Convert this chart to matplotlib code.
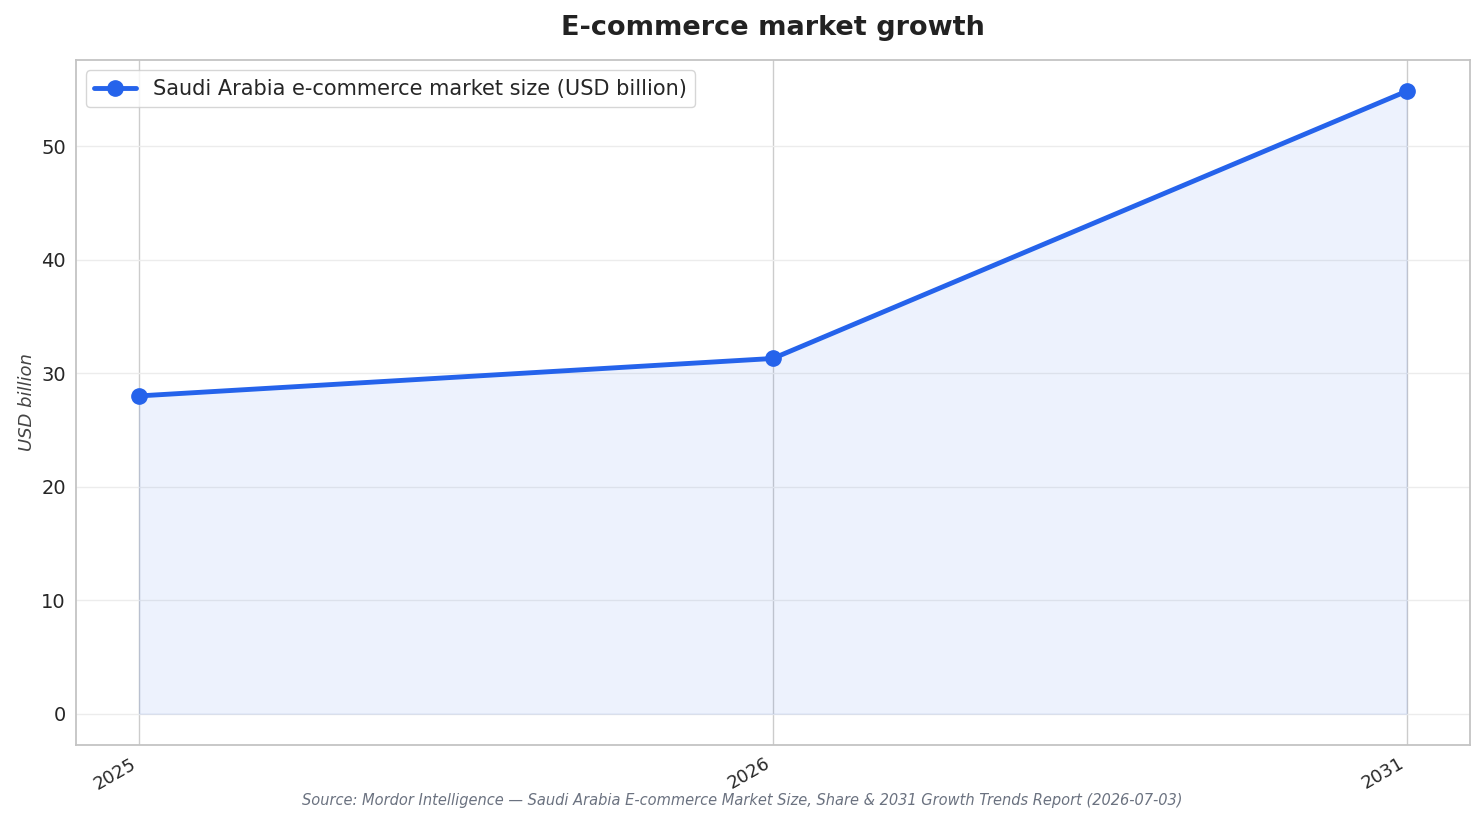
import matplotlib
matplotlib.use("Agg")
import matplotlib.pyplot as plt
import seaborn as sns

years = ["2025", "2026", "2031"]
market_size = [28.0, 31.3, 54.85]

sns.set_style("whitegrid")
plt.rcParams['font.family'] = ['DejaVu Sans']

fig, ax = plt.subplots(figsize=(14.84, 8.23), dpi=100)
x = list(range(len(years)))
color = "#2563EB"

ax.plot(x, market_size, color=color, linewidth=3.5, marker="o", markersize=11,
        label="Saudi Arabia e-commerce market size (USD billion)")
ax.fill_between(x, market_size, 0, color=color, alpha=0.08)

ax.set_xticks(x)
ax.set_xticklabels(years, rotation=30, ha="right", fontsize=13)
ax.tick_params(axis="y", labelsize=14)
ax.set_ylabel("USD billion", fontsize=13, style="italic", color="#444444", labelpad=4)
ax.set_title("E-commerce market growth", fontsize=19.5, fontweight="bold", color="#222222", pad=18)

ax.grid(axis="y", color="#ececec", linewidth=1)
ax.grid(axis="x", color="#cccccc", linewidth=1)
for s in ax.spines.values():
    s.set_color("#c4c4c4")
    s.set_linewidth(1.3)

ax.legend(loc="upper left", fontsize=15, frameon=True)

fig.text(0.5, 0.022, "Source: Mordor Intelligence \u2014 Saudi Arabia E-commerce Market Size, Share & 2031 Growth Trends Report (2026-07-03)",
         ha="center", fontsize=10.5, style="italic", color="#6b7280")

fig.subplots_adjust(left=0.051, right=0.9906, top=0.927, bottom=0.095)
fig.savefig("out.png", dpi=100)
